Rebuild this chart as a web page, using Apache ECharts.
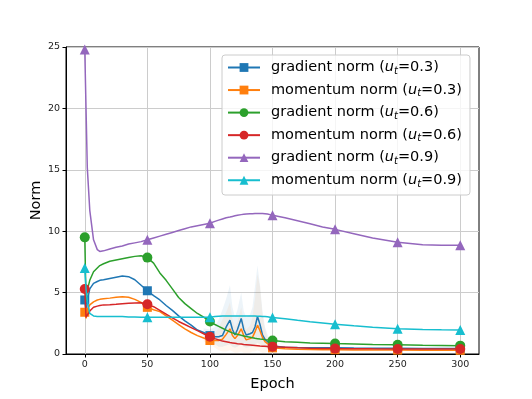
<!DOCTYPE html>
<html>
<head>
<meta charset="utf-8">
<script src="https://cdn.jsdelivr.net/npm/echarts@6.0.0/dist/echarts.min.js"></script>
<style>
  html, body { margin: 0; padding: 0; background: #fff; }
  #chart { width: 532px; height: 399px; }
</style>
</head>
<body>
<div id="chart"></div>
<script>
var epochs = [0, 1, 2, 4, 7, 10, 12, 15, 20, 25, 30, 35, 40, 45, 50, 55, 60, 65, 70, 75, 80, 85, 90, 95,
  100, 104, 107, 110, 113, 116, 118, 120, 122, 125, 127, 129, 132, 134, 136, 138, 140, 142, 144, 146, 148,
  150, 160, 170, 180, 190, 200, 215, 230, 250, 270, 285, 300];

var gradNorm03 = [4.4, 3.3, 4.3, 5.3, 5.75, 5.9, 6.0, 6.05, 6.15, 6.25, 6.35, 6.3, 6.05, 5.6, 5.15, 4.75, 4.4, 3.95, 3.55, 3.1, 2.7, 2.35, 1.95, 1.75,
  1.5, 1.4, 1.4, 1.5, 2.2, 2.75, 2.0, 1.55, 2.0, 2.9, 2.0, 1.55, 1.65, 1.75, 2.2, 3.05, 2.4, 1.55, 1.2, 1.0, 0.8,
  0.65, 0.55, 0.52, 0.5, 0.5, 0.5, 0.48, 0.47, 0.46, 0.45, 0.45, 0.45];
var momNorm03 = [3.4, 2.9, 3.6, 4.0, 4.25, 4.4, 4.45, 4.5, 4.55, 4.62, 4.67, 4.62, 4.45, 4.2, 3.8, 3.6, 3.45, 3.1, 2.75, 2.4, 2.05, 1.75, 1.5, 1.3,
  1.1, 1.1, 1.1, 1.2, 1.6, 2.05, 1.5, 1.25, 1.5, 2.05, 1.5, 1.15, 1.25, 1.35, 1.8, 2.35, 1.9, 1.35, 1.0, 0.85, 0.65,
  0.5, 0.42, 0.38, 0.36, 0.35, 0.35, 0.33, 0.32, 0.32, 0.3, 0.3, 0.3];
var gradNorm06 = [9.5, 4.3, 5.2, 6.0, 6.7, 7.0, 7.2, 7.35, 7.55, 7.65, 7.75, 7.85, 7.95, 8.0, 7.85, 7.4, 6.6, 6.0, 5.3, 4.6, 4.1, 3.7, 3.3, 3.0,
  2.65, 2.4, 2.25, 2.1, 1.95, 1.8, 1.72, 1.65, 1.6, 1.52, 1.47, 1.42, 1.36, 1.32, 1.28, 1.25, 1.22, 1.2, 1.17, 1.15, 1.13,
  1.1, 1.0, 0.95, 0.9, 0.88, 0.85, 0.82, 0.78, 0.76, 0.72, 0.7, 0.68];
var momNorm06 = [5.3, 3.0, 3.1, 3.5, 3.8, 3.9, 3.95, 4.0, 4.02, 4.05, 4.1, 4.13, 4.15, 4.17, 4.05, 3.85, 3.55, 3.25, 2.95, 2.65, 2.4, 2.15, 1.9, 1.65,
  1.4, 1.25, 1.15, 1.05, 1.0, 0.93, 0.9, 0.87, 0.84, 0.81, 0.78, 0.76, 0.73, 0.71, 0.69, 0.67, 0.65, 0.64, 0.63, 0.62, 0.61,
  0.6, 0.55, 0.5, 0.47, 0.45, 0.44, 0.43, 0.42, 0.41, 0.4, 0.4, 0.4];
var gradNorm09 = [24.8, 20.0, 15.2, 11.7, 9.3, 8.5, 8.35, 8.4, 8.55, 8.7, 8.8, 8.95, 9.05, 9.15, 9.3, 9.45, 9.6, 9.75, 9.9, 10.05, 10.2, 10.35, 10.45, 10.55,
  10.65, 10.8, 10.9, 11.0, 11.1, 11.15, 11.2, 11.25, 11.3, 11.35, 11.38, 11.4, 11.42, 11.43, 11.45, 11.45, 11.45, 11.45, 11.43, 11.4, 11.35,
  11.3, 11.1, 10.85, 10.6, 10.35, 10.15, 9.8, 9.45, 9.1, 8.9, 8.85, 8.85];
var momNorm09 = [7.0, 5.3, 4.3, 3.3, 3.1, 3.05, 3.05, 3.05, 3.05, 3.05, 3.05, 3.02, 3.02, 3.0, 3.0, 3.0, 3.0, 3.0, 3.0, 3.0, 3.0, 3.0, 3.0, 3.0,
  3.0, 3.05, 3.08, 3.1, 3.1, 3.1, 3.1, 3.1, 3.1, 3.1, 3.1, 3.1, 3.1, 3.1, 3.1, 3.08, 3.08, 3.06, 3.05, 3.03, 3.0,
  2.98, 2.88, 2.75, 2.63, 2.53, 2.43, 2.3, 2.18, 2.05, 2.0, 1.97, 1.95];

// shaded spread for the u_t=0.3 runs
var bandEpochs = [95, 100, 104, 107, 110, 113, 116, 118, 120, 122, 125, 127, 129, 132, 134, 136, 138, 140, 142, 144, 146, 148, 150];
var gradBandLow = [1.4, 1.1, 0.8, 0.6, 0.6, 0.7, 0.8, 0.6, 0.5, 0.6, 0.8, 0.6, 0.5, 0.6, 0.6, 0.8, 0.9, 0.8, 0.6, 0.5, 0.5, 0.5, 0.5];
var gradBandHigh = [2.1, 2.0, 2.2, 2.8, 3.6, 4.5, 5.6, 3.8, 3.0, 3.6, 5.0, 3.5, 3.0, 3.2, 3.8, 5.5, 7.2, 5.6, 3.5, 2.2, 1.6, 1.2, 0.9];
var momBandLow = [1.0, 0.8, 0.5, 0.3, 0.2, 0.2, 0.3, 0.2, 0.1, 0.1, 0.2, 0.1, 0.1, 0.1, 0.2, 0.2, 0.3, 0.2, 0.1, 0.1, 0.2, 0.2, 0.3];
var momBandHigh = [1.6, 1.5, 1.7, 2.1, 2.8, 3.4, 4.2, 2.8, 2.2, 2.6, 3.8, 2.6, 2.0, 2.3, 3.0, 4.5, 6.5, 5.5, 3.2, 2.0, 1.3, 1.0, 0.8];

var xTicks = [0, 50, 100, 150, 200, 250, 300];

var names = ['gradient norm (u_t=0.3)', 'momentum norm (u_t=0.3)', 'gradient norm (u_t=0.6)',
  'momentum norm (u_t=0.6)', 'gradient norm (u_t=0.9)', 'momentum norm (u_t=0.9)'];
var colors = ['#1f77b4', '#ff7f0e', '#2ca02c', '#d62728', '#9467bd', '#17becf'];
var symbols = ['rect', 'rect', 'circle', 'circle', 'triangle', 'triangle'];
var sizes = [9, 9, 10, 10, 10, 10];
var values = [gradNorm03, momNorm03, gradNorm06, momNorm06, gradNorm09, momNorm09];

function pairs(xs, ys) {
  return xs.map(function (x, i) { return [x, ys[i]]; });
}

// one polygon between low and high, drawn through the axis scales
function bandSeries(low, high, fill) {
  return {
    type: 'custom',
    silent: true,
    clip: true,
    z: 1,
    data: bandEpochs.map(function (x, i) { return [x, low[i], high[i]]; }),
    renderItem: function (params, api) {
      if (params.dataIndex !== 0) return;
      var top = bandEpochs.map(function (x, i) { return api.coord([x, high[i]]); });
      var bottom = bandEpochs.map(function (x, i) { return api.coord([x, low[i]]); }).reverse();
      return {
        type: 'polygon',
        shape: { points: top.concat(bottom) },
        style: { fill: fill }
      };
    }
  };
}

var chart = echarts.init(document.getElementById('chart'));

var series = [
  bandSeries(gradBandLow, gradBandHigh, 'rgba(31,119,180,0.08)'),
  bandSeries(momBandLow, momBandHigh, 'rgba(255,127,14,0.07)')
];

names.forEach(function (name, k) {
  series.push({
    name: name,
    type: 'line',
    data: pairs(epochs, values[k]),
    color: colors[k],
    symbol: symbols[k],
    showAllSymbol: true,
    symbolSize: function (v) { return v[0] % 50 === 0 ? sizes[k] : 0; },
    lineStyle: { width: 1.5 },
    itemStyle: { color: colors[k] },
    z: 2 + k
  });
});

var option = {
  animation: false,
  textStyle: { fontFamily: 'DejaVu Sans' },
  grid: { left: 66, right: 53, top: 47, bottom: 45, show: true, borderColor: '#000', borderWidth: 1 },
  legend: {
    data: names,
    orient: 'vertical',
    left: 222,
    top: 55,
    itemWidth: 32,
    itemHeight: 11,
    itemGap: 6.3,
    padding: [5, 8, 6, 5],
    backgroundColor: 'rgba(255,255,255,0.8)',
    borderColor: '#cccccc',
    borderWidth: 1,
    borderRadius: 3,
    formatter: function (name) {
      var m = name.match(/^(.*)\(u_t=(.*)\)$/);
      return '{sp| }{n|' + m[1] + '(}{i|u}{s|t}{n|=' + m[2] + ')}';
    },
    textStyle: {
      rich: {
        sp: { width: 6 },
        n: { fontSize: 14.5, color: '#000', lineHeight: 17.5 },
        i: { fontSize: 14.5, color: '#000', fontStyle: 'italic', lineHeight: 17.5 },
        s: { fontSize: 10, color: '#000', fontStyle: 'italic', verticalAlign: 'bottom', padding: [6, 0, 0, 0] }
      }
    }
  },
  xAxis: {
    type: 'value', min: -15, max: 315,
    name: 'Epoch', nameLocation: 'middle', nameGap: 23, nameMoveOverlap: false,
    nameTextStyle: { fontSize: 14.5, color: '#000' },
    axisLine: { show: true, onZero: false, lineStyle: { color: '#000' } },
    axisTick: { show: true, length: 3.5, customValues: xTicks, lineStyle: { color: '#000' } },
    axisLabel: { customValues: xTicks, fontSize: 9.5, color: '#222', margin: 6 },
    splitLine: { show: true, lineStyle: { color: '#cccccc', width: 1 } }
  },
  yAxis: {
    type: 'value', min: 0, max: 25, interval: 5,
    name: 'Norm', nameLocation: 'middle', nameGap: 22, nameMoveOverlap: false,
    nameTextStyle: { fontSize: 14.5, color: '#000' },
    axisLine: { show: true, onZero: false, lineStyle: { color: '#000' } },
    axisTick: { show: true, length: 3.5, lineStyle: { color: '#000' } },
    axisLabel: { fontSize: 9.5, color: '#222', margin: 6 },
    splitLine: { show: true, lineStyle: { color: '#cccccc', width: 1 } }
  },
  series: series
};

chart.setOption(option);
</script>
</body>
</html>
